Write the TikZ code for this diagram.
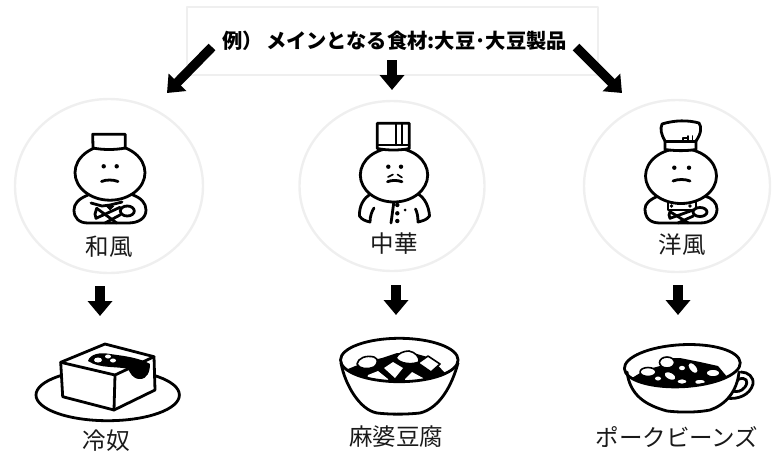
\documentclass[tikz,border=0pt]{standalone}
\usepackage{fontspec}
\setmainfont{Noto Sans CJK JP}
\usetikzlibrary{arrows.meta, positioning}
\definecolor{ringgray}{HTML}{EFEFEF}
\tikzstyle{sheet}=[x=1pt, y=-1pt, line join=round, line cap=round]
\tikzstyle{ring}=[draw=ringgray, line width=2.4pt]
\tikzstyle{ink}=[draw=black, line width=2.8pt, fill=white]
\tikzstyle{bare}=[draw=black, line width=2.8pt]
\tikzstyle{bean}=[draw=black, line width=1.6pt, fill=white]
\tikzstyle{blot}=[fill=black]
\tikzstyle{spot}=[fill=white]
\tikzstyle{blockarrow}=[line width=9.5pt, line cap=butt, -{Triangle[width=24pt,length=15pt]}]
\tikzstyle{label}=[font=\fontsize{23.5}{26}\selectfont, inner sep=0pt, text=black!90]
\tikzstyle{headline}=[font=\bfseries\fontsize{20.3}{22}\selectfont, inner sep=0pt]
\begin{document}
\begin{tikzpicture}[sheet]
  \useasboundingbox (0,0) rectangle (775,453);

  \draw[ring] (187,7) rectangle (598,75);
  \node[headline] (title) at (394.5,41) {例）\,メインとなる食材:大豆･大豆製品};

  \coordinate (tail1) at (212,47);
  \coordinate (tip1) at (167,93);
  \coordinate (tail2) at (392,60);
  \coordinate (tip2) at (392,90);
  \coordinate (tail3) at (576,47);
  \coordinate (tip3) at (622,93);
  \coordinate (tail4) at (100,286);
  \coordinate (tip4) at (100,316);
  \coordinate (tail5) at (396,285);
  \coordinate (tip5) at (396,315);
  \coordinate (tail6) at (678,285);
  \coordinate (tip6) at (678,315);

  \path[blockarrow]
    (tail1) edge (tip1)
    (tail2) edge (tip2)
    (tail3) edge (tip3)
    (tail4) edge (tip4)
    (tail5) edge (tip5)
    (tail6) edge (tip6);

  \draw[ring] (109,186) ellipse [x radius=94, y radius=87];
  \draw[ring] (392,186) ellipse [x radius=92.5, y radius=85];
  \draw[ring] (677,186) ellipse [x radius=93, y radius=86];

  % washoku cook
  \draw[ink] (88,195) .. controls (78,199) and (74,204) .. (74,210)
    .. controls (74,218) and (79,223) .. (88,223) -- (128,223)
    .. controls (139,223) and (146,218) .. (146,210)
    .. controls (146,203) and (141,198) .. (133,195);
  \draw[bare] (91,203) -- (102,206) -- (110,205) -- (122,202);
  \draw[blot] (106,206) -- (114,206) -- (110,210) -- cycle;
  \draw[bare] (96.7,208.3) -- (116.7,223);
  \draw[bare] (96.7,208.3) -- (95,214) -- (96,218.3) -- (120,207.3);
  \draw[bare] (120,215) -- (105,223);
  \draw[ink] (127.3,211) ellipse [x radius=7, y radius=5];
  \draw[ink] (110,172.7) ellipse [x radius=35, y radius=27.5];
  \draw[ink] (92.7,134.3) -- (125.3,134.3) -- (125.3,148) .. controls (115,150) and (103,150) .. (93,148) -- cycle;
  \fill[blot] (103.7,166.3) circle (2.2) (116.7,166.3) circle (2.2);
  \draw[bare] (101.5,181.5) .. controls (106,179.5) and (113,179.5) .. (118,181.5);

  % chuka cook
  \draw[bare] (371,194) .. controls (363,198) and (359,207) .. (359.5,216)
    .. controls (362,220) and (366,221) .. (370,222) .. controls (370,216) and (372,211) .. (374,208);
  \draw[bare] (418,194) .. controls (425,198) and (429,207) .. (429.5,216)
    .. controls (427,220) and (422,221) .. (418,222) .. controls (418,216) and (417,212) .. (415.5,209);
  \draw[bare] (394,201) .. controls (393,208) and (392,216) .. (391,223);
  \fill[blot] (397.3,205) circle (2.2) (397.3,213.3) circle (2.2) (397.3,221) circle (2.2) (405,210) circle (1.5);
  \draw[ink] (394,175) ellipse [x radius=33.7, y radius=27];
  \draw[ink] (377.3,123.3) -- (409.3,123.3) -- (409.3,148.5) .. controls (400,150.5) and (387,150.5) .. (377.3,148.5) -- cycle;
  \draw[bare, line width=2.2pt] (377.3,145) -- (409.3,145) (396,123.3) -- (396,145) (401.7,123.3) -- (401.7,145);
  \fill[blot] (388.3,166.7) circle (2.2) (401,166.7) circle (2.2);
  \draw[bare] (387.5,181.7) .. controls (392,180) and (397,180) .. (402,181.7);
  \draw[line width=1.6pt] (388,177) -- (393,174.5) (397.5,174.5) -- (402,177.5);

  % yoshoku cook
  \draw[ink] (658,196) .. controls (649,200) and (645,204) .. (645,209)
    .. controls (645,218) and (650,223) .. (660,223) -- (700,223)
    .. controls (711,223) and (717,217) .. (717,209)
    .. controls (717,203) and (712,198) .. (705,196);
  \draw[ink] (668,202) -- (696,202) -- (696,210) -- (668,210) -- cycle;
  \fill[blot] (671.5,206) circle (1.8) (690,206) circle (1.8);
  \draw[bare] (670,211.7) -- (688.3,223);
  \draw[bare] (670,211.7) -- (669,215) -- (670,218.3) -- (693.3,210);
  \draw[bare] (693.3,216) -- (678,223);
  \draw[ink] (700,212) ellipse [x radius=7, y radius=4.5];
  \draw[ink] (681,176) ellipse [x radius=35.5, y radius=27.5];
  \draw[ink] (665,141) .. controls (661,134) and (660,129) .. (662,124)
    .. controls (675,120) and (688,120) .. (699,123)
    .. controls (702,127) and (701,134) .. (696,141) -- (696,149.5)
    .. controls (686,151) and (676,151) .. (665,149.5) -- cycle;
  \draw[bare] (665,141.5) -- (696,141.5);
  \draw[line width=1.6pt] (683,141) -- (683,138) -- (688,138) (688,141) -- (688,136) (692.5,141) -- (692.5,136);
  \fill[blot] (674.3,167.7) circle (2.2) (689,167.7) circle (2.2);
  \draw[bare] (673,181) .. controls (678,179) and (685,179) .. (690,181);

  \node[label] (wafu) at (109,247) {和風};
  \node[label] (chuka) at (394,244) {中華};
  \node[label] (yofu) at (682,245) {洋風};

  % tofu on a plate
  \draw[ink] (107.7,395) ellipse [x radius=71.7, y radius=25.7];
  \draw[ink] (105,344) -- (154,356.7) -- (155,390) -- (114,410) -- (62.7,396.7) -- (60.7,362.3) -- cycle;
  \draw[bare] (60.7,362.3) -- (115,375) -- (154,356.7) (115,375) -- (114,410);
  \fill[blot] (88,361) .. controls (90,354) and (100,352) .. (110,354)
    .. controls (125,356) and (140,358) .. (150,364)
    .. controls (150,372) and (147,379) .. (140,379)
    .. controls (132,379) and (130,372) .. (128,369)
    .. controls (118,366) and (100,369) .. (88,361) -- cycle;
  \fill[spot] (98,360) ellipse [x radius=4, y radius=2.5];
  \fill[spot] (108,356.5) ellipse [x radius=3, y radius=2];
  \fill[spot] (113,360.5) ellipse [x radius=3, y radius=2];

  % mapo bowl
  \draw[ink] (341,363) .. controls (345,385) and (360,410) .. (377,413)
    .. controls (395,415) and (410,414) .. (420,413)
    .. controls (440,408) and (452,385) .. (458,363);
  \begin{scope}
    \clip (399.3,360) ellipse [x radius=58.8, y radius=21.7];
    \fill[blot] (348,369) -- (365,362) -- (382,358) -- (397,353) -- (417,354) -- (431,358) -- (445,373) -- (445,390) -- (348,390) -- cycle;
    \fill[spot] (368,375) -- (378,371) -- (388,379) -- (388,385) -- (366,385) -- cycle;
    \fill[spot] (405,379) -- (412,372) -- (423,378) -- (423,385) -- (405,385) -- cycle;
  \end{scope}
  \draw[bean] (357,364) .. controls (358,358) and (366,355) .. (374,357) .. controls (379,359) and (378,364) .. (374,367) .. controls (368,370) and (359,369) .. (357,364) -- cycle;
  \draw[bean] (396,358) .. controls (398,353) and (404,351) .. (409,351) .. controls (415,352) and (420,357) .. (419,362) .. controls (412,365) and (400,364) .. (396,358) -- cycle;
  \fill[spot] (384,368) -- (393,362) -- (403,368) -- (395,378) -- cycle;
  \draw[bean] (418,363) -- (428,356) -- (440,364) -- (431,372) -- cycle;
  \draw[bare] (399.3,360) ellipse [x radius=58.8, y radius=21.7];

  % bean cup
  \draw[ink] (741,372) .. controls (748,372) and (754,377) .. (753,384)
    .. controls (750,395) and (738,400) .. (726,398);
  \draw[bare] (739,379) .. controls (746,377) and (749,381) .. (745,387)
    .. controls (741,392) and (737,392) .. (732,391) .. controls (733,386) and (736,381) .. (739,379) -- cycle;
  \draw[ink] (627,372) .. controls (630,395) and (645,405) .. (667,411)
    .. controls (685,413) and (700,412) .. (710,410)
    .. controls (725,405) and (737,392) .. (739,372);
  \begin{scope}
    \clip[rotate around={3:(682.3,365.7)}] (682.3,365.7) ellipse [x radius=58, y radius=21];
    \fill[blot] (632,378) -- (645,370) -- (660,366) -- (666,358) -- (680,358) -- (700,362) -- (718,366) -- (728,378) -- (728,395) -- (632,395) -- cycle;
  \end{scope}
  \draw[bean] (648,372) ellipse [x radius=8, y radius=4.5];
  \draw[bean] (667,362.5) ellipse [x radius=7.5, y radius=5.5];
  \draw[bean, rotate around={-25:(670,376)}] (670,376) ellipse [x radius=6.5, y radius=4];
  \draw[bean, rotate around={-50:(693,368)}] (693,368) ellipse [x radius=6.5, y radius=4];
  \draw[bean] (713,373) ellipse [x radius=7, y radius=4];
  \draw[bean] (682,381.5) ellipse [x radius=5.5, y radius=3];
  \draw[bean] (700,382) ellipse [x radius=6, y radius=3];
  \fill[spot] (682,368) ellipse [x radius=3, y radius=2.2];
  \fill[spot] (658,378.5) ellipse [x radius=3, y radius=2];
  \draw[bare, rotate around={3:(682.3,365.7)}] (682.3,365.7) ellipse [x radius=58, y radius=21];

  \node[label] (hiyayakko) at (106,441) {冷奴};
  \node[label] (mapo) at (396,437) {麻婆豆腐};
  \node[label] (beans) at (677,437) {ポークビーンズ};
\end{tikzpicture}
\end{document}
